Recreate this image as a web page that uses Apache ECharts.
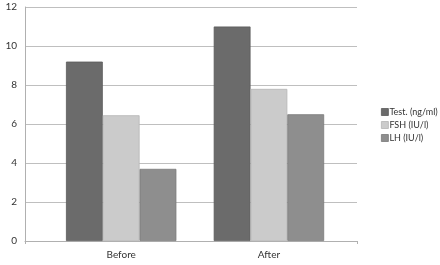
<!DOCTYPE html>
<html><head><meta charset="utf-8">
<script src="https://cdn.jsdelivr.net/npm/echarts@6/dist/echarts.min.js"></script>
<style>html,body{margin:0;padding:0;background:#fff}#c{width:440px;height:265px}</style>
</head><body><div id="c"></div>
<script>
var categories = ['Before', 'After'];
var testValues = [9.2, 11.0];
var fshValues = [6.45, 7.8];
var lhValues = [3.7, 6.5];
var seriesNames = ['Test. (ng/ml)', 'FSH (IU/l)', 'LH (IU/l)'];
var colors = ['#6b6b6b', '#cbcbcb', '#8e8e8e'];
var borders = ['#5a5a5a', '#b5b5b5', '#7a7a7a'];
var font = 'Lato';
var chart = echarts.init(document.getElementById('c'));
function mk(i, data) {
  return {
    name: seriesNames[i], type: 'bar', data: data, xAxisIndex: 1, yAxisIndex: 1,
    barWidth: 36.8, barGap: '0%',
    itemStyle: { color: colors[i], borderColor: borders[i], borderWidth: 0.8 }
  };
}
chart.setOption({
  animation: false,
  textStyle: { fontFamily: font },
  legend: {
    orient: 'vertical', left: 381, top: 107, padding: 0, itemWidth: 7, itemHeight: 7, itemGap: 3,
    textStyle: { fontSize: 9, color: '#333', fontFamily: font, padding: [0, 0, 0, -4], overflow: 'none', width: 80, lineHeight: 10 },
    data: seriesNames.map(function (n, i) {
      return { name: n, icon: 'rect', itemStyle: { color: colors[i], borderColor: borders[i], borderWidth: 0.8 } };
    })
  },
  grid: [
    { left: 25, right: 83, top: 7, bottom: 24 },
    { left: 47.3, width: 295.5, top: 7, bottom: 24 }
  ],
  xAxis: [
    { type: 'value', gridIndex: 0, min: 0, max: 1, interval: 1,
      axisLine: { show: true, lineStyle: { color: '#b0b0b0' } },
      axisTick: { show: true, length: 3, lineStyle: { color: '#b0b0b0' } },
      axisLabel: { show: false }, splitLine: { show: false } },
    { type: 'category', gridIndex: 1, data: categories,
      axisLine: { show: false }, axisTick: { show: false },
      axisLabel: { fontSize: 10, color: '#333', margin: 9, fontFamily: font } }
  ],
  yAxis: [
    { type: 'value', gridIndex: 0, min: 0, max: 12, interval: 2,
      axisLine: { show: true, lineStyle: { color: '#b0b0b0' } },
      axisTick: { show: false },
      axisLabel: { fontSize: 10, color: '#333', margin: 8, fontFamily: font },
      splitLine: { show: true, lineStyle: { color: '#bfbfbf' } } },
    { type: 'value', gridIndex: 1, min: 0, max: 12, interval: 2, show: false }
  ],
  series: [mk(0, testValues), mk(1, fshValues), mk(2, lhValues)]
});
</script></body></html>
